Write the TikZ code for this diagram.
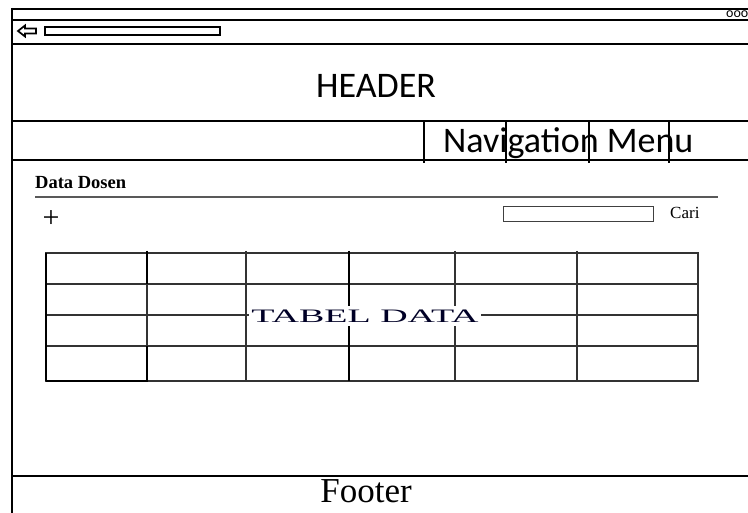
\documentclass[tikz,border=0pt]{standalone}
\usepackage{fontspec}
\setmainfont{Liberation Serif}
\newfontfamily\calib{Carlito}
\begin{document}
\begin{tikzpicture}[x=1pt,y=-1pt,
  frame/.style={line width=2.8pt,black},
  grid/.style={line width=1.1pt,black!80},
  thickgrid/.style={line width=1.8pt,black}]
\useasboundingbox[fill=white] (0,0) rectangle (748,513);
% browser frame
\node[font=\calib\fontsize{14}{14}\selectfont, anchor=base west, inner sep=0] (dots) at (726,18) {ooo};
\fill[white] (700,0) rectangle (748,9);
\draw[frame] (12,9) -- (748,9);
\draw[frame] (12,20) -- (748,20);
\draw[frame] (12,44) -- (748,44);
\draw[frame] (12,121) -- (748,121);
\draw[frame] (12,160) -- (748,160);
\draw[frame] (12,476) -- (748,476);
\draw[frame] (12,8) -- (12,513);
% back arrow and address bar
\draw[line width=1.7pt] (18,31) -- (25,25.5) -- (25,28.5) -- (36,28.5) -- (36,33.5) -- (25,33.5) -- (25,36.5) -- cycle;
\draw[line width=2pt] (45,27.5) rectangle (220,35.5);
% header
\node[font=\calib\fontsize{36}{36}\selectfont, inner sep=0] (header) at (376,86) {HEADER};
% navigation
\foreach \x in {424,506,589,669} \draw[line width=2pt] (\x,122) -- (\x,163);
\node[font=\calib\fontsize{36}{36}\selectfont, anchor=base west, inner sep=0] (nav) at (443,153) {Navigation Menu};
% content
\node[font=\bfseries\fontsize{18.5}{18.5}\selectfont, anchor=base west, inner sep=0] (title) at (35,189) {Data Dosen};
\draw[line width=1.2pt, black!65] (35,197) -- (718,197);
\node[font=\fontsize{30}{30}\selectfont, inner sep=0] (plus) at (51,219) {+};
\draw[line width=1pt, black!75] (503,207) rectangle (653,222);
\node[font=\fontsize{17}{17}\selectfont, anchor=base west, inner sep=0] (cari) at (670,219) {Cari};
% table
\draw[grid] (46,253) rectangle (698,381);
\foreach \y in {284,315,346} \draw[grid] (46,\y) -- (698,\y);
\foreach \x in {147,246,349,455,577} \draw[grid] (\x,251) -- (\x,381);
\draw[thickgrid] (147,251) -- (147,284);
\draw[thickgrid] (349,251) -- (349,381);
\draw[thickgrid] (46,381) -- (147,381) -- (147,346);
\draw[thickgrid] (46,253) -- (46,381);
\node[fill=white, inner xsep=2pt, inner ysep=4pt, text=black!85!blue] (tabel) at (365,316)
  {\scalebox{2.0}[1]{\fontsize{19}{19}\selectfont TABEL DATA}};
% footer
\node[font=\fontsize{35}{35}\selectfont, anchor=base, inner sep=0] (footer) at (366,502) {Footer};
\end{tikzpicture}
\end{document}
